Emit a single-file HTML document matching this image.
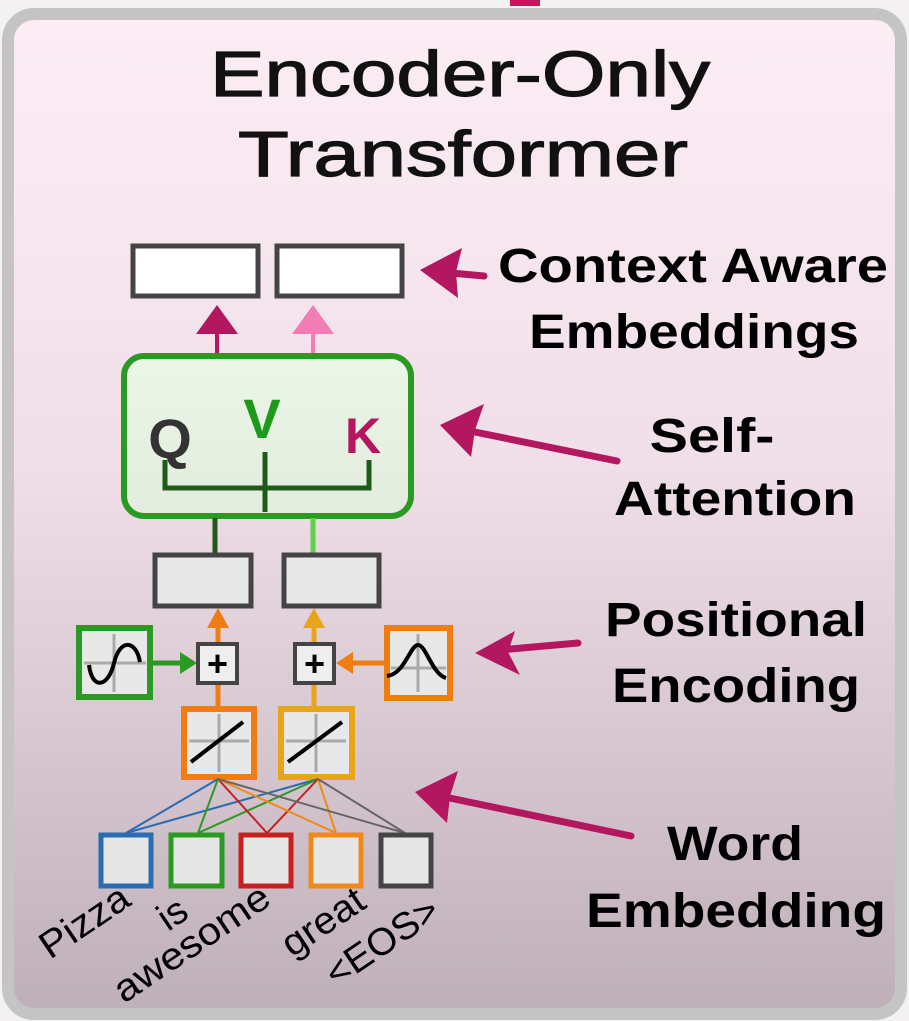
<!DOCTYPE html>
<html><head><meta charset="utf-8"><style>
html,body{margin:0;padding:0;background:#f4f2f3;}
svg{display:block}
text{font-family:"Liberation Sans",Arial,sans-serif}
</style></head><body>
<svg width="909" height="1021" viewBox="0 0 909 1021" xmlns="http://www.w3.org/2000/svg">
<defs>
<linearGradient id="bg" x1="0" y1="0" x2="0" y2="1">
<stop offset="0" stop-color="#fcedf5"/>
<stop offset="0.45" stop-color="#f0dfe8"/>
<stop offset="1" stop-color="#beafb9"/>
</linearGradient>
<linearGradient id="gb" x1="0" y1="0" x2="0" y2="1">
<stop offset="0" stop-color="#eaf6e6"/><stop offset="1" stop-color="#e3ecdf"/>
</linearGradient>
</defs>
<rect x="0" y="0" width="909" height="1021" fill="#f3f1f2"/>
<rect x="8" y="14" width="893" height="1000" rx="26" fill="url(#bg)" stroke="#c4c4c4" stroke-width="12"/>
<rect x="510" y="0" width="30" height="6" fill="#c2185b"/>

<text x="460" y="96" font-family="DejaVu Sans, sans-serif" font-size="64" text-anchor="middle" textLength="500" lengthAdjust="spacingAndGlyphs" fill="#111" stroke="#111" stroke-width="1.2">Encoder-Only</text>
<text x="463" y="176" font-family="DejaVu Sans, sans-serif" font-size="64" text-anchor="middle" textLength="450" lengthAdjust="spacingAndGlyphs" fill="#111" stroke="#111" stroke-width="1.2">Transformer</text>

<rect x="133" y="246" width="125" height="50" fill="#fff" stroke="#444" stroke-width="5"/>
<rect x="277" y="246" width="125" height="50" fill="#fff" stroke="#444" stroke-width="5"/>
<line x1="217" y1="355" x2="217" y2="320" stroke="#b3175f" stroke-width="4"/>
<polygon points="217,305 196,334 238,334" fill="#b3175f"/>
<line x1="313" y1="355" x2="313" y2="320" stroke="#f27cb4" stroke-width="4"/>
<polygon points="313,305 292,334 334,334" fill="#f27cb4"/>

<rect x="124" y="356" width="287" height="160" rx="20" fill="url(#gb)" stroke="#2a9a22" stroke-width="6"/>
<text x="170" y="458" font-family="DejaVu Sans, sans-serif" font-size="56" font-weight="bold" text-anchor="middle" fill="#333">Q</text>
<text x="262" y="438" font-family="DejaVu Sans, sans-serif" font-size="56" font-weight="bold" text-anchor="middle" fill="#1e9a1a">V</text>
<text x="363" y="453" font-family="DejaVu Sans, sans-serif" font-size="50" font-weight="bold" text-anchor="middle" fill="#b3175f">K</text>
<path d="M165 460 V488 H369 V460 M265 452 V512" fill="none" stroke="#1f5a1a" stroke-width="5"/>

<line x1="215" y1="518" x2="215" y2="555" stroke="#1f5a1a" stroke-width="5"/>
<line x1="313" y1="518" x2="313" y2="555" stroke="#5ed04e" stroke-width="5"/>

<rect x="155" y="555" width="96" height="51" fill="#e8e8e8" stroke="#444" stroke-width="5"/>
<rect x="284" y="555" width="95" height="51" fill="#e8e8e8" stroke="#444" stroke-width="5"/>

<line x1="218" y1="708" x2="218" y2="620" stroke="#ef7d12" stroke-width="5"/>
<polygon points="218,608 207,628 229,628" fill="#ef7d12"/>
<line x1="314" y1="708" x2="314" y2="620" stroke="#e9a51a" stroke-width="5"/>
<polygon points="314,608 303,628 325,628" fill="#e9a51a"/>

<rect x="198" y="644" width="39" height="39" fill="#eee" stroke="#444" stroke-width="4"/>
<text x="217.5" y="676" font-size="36" font-weight="bold" text-anchor="middle" fill="#000">+</text>
<rect x="295" y="644" width="39" height="39" fill="#eee" stroke="#444" stroke-width="4"/>
<text x="314.5" y="676" font-size="36" font-weight="bold" text-anchor="middle" fill="#000">+</text>

<rect x="79" y="628" width="71" height="69" fill="#e8e8e8" stroke="#2a9a22" stroke-width="6"/>
<path d="M114 634 V692 M84 663 H146" stroke="#aaa" stroke-width="3"/>
<path d="M89 665 C 92 690, 108 688, 114 663 C 120 638, 136 640, 140 662" fill="none" stroke="#000" stroke-width="4"/>
<line x1="150" y1="663" x2="185" y2="663" stroke="#2a9a22" stroke-width="5"/>
<polygon points="197,663 180,652 180,674" fill="#2a9a22"/>
<rect x="387" y="628" width="63" height="70" fill="#e8e8e8" stroke="#ef7d12" stroke-width="6"/>
<path d="M418 634 V692 M391 668 H446" stroke="#aaa" stroke-width="3"/>
<path d="M387 676 C 405 674, 410 645, 418 645 C 426 645, 432 674, 446 678" fill="none" stroke="#000" stroke-width="4"/>
<line x1="387" y1="663" x2="350" y2="663" stroke="#ef7d12" stroke-width="5"/>
<polygon points="336,663 353,652 353,674" fill="#ef7d12"/>

<rect x="184" y="709" width="70" height="68" fill="#e8e8e8" stroke="#ef7d12" stroke-width="6"/>
<path d="M219 714 V772 M189 741 H249" stroke="#aaa" stroke-width="3"/>
<line x1="191" y1="762" x2="243" y2="722" stroke="#000" stroke-width="4"/>
<rect x="281" y="709" width="71" height="68" fill="#e8e8e8" stroke="#e9a51a" stroke-width="6"/>
<path d="M316 714 V772 M286 741 H346" stroke="#aaa" stroke-width="3"/>
<line x1="288" y1="762" x2="342" y2="722" stroke="#000" stroke-width="4"/>

<g stroke-width="2" fill="none">
<path d="M218 779 L126 833 L318 779" stroke="#2b6cb0"/>
<path d="M218 779 L198 833 L318 779" stroke="#2a9a22"/>
<path d="M218 779 L267 833 L318 779" stroke="#c62020"/>
<path d="M218 779 L336 833 L318 779" stroke="#ef8a1a"/>
<path d="M218 779 L405 833 L318 779" stroke="#666"/>
</g>

<rect x="101" y="835" width="50" height="51" fill="#e6e6e6" stroke="#2b6cb0" stroke-width="5"/>
<rect x="171" y="835" width="51" height="51" fill="#e6e6e6" stroke="#2a9a22" stroke-width="5"/>
<rect x="241" y="835" width="50" height="51" fill="#e6e6e6" stroke="#c62020" stroke-width="5"/>
<rect x="311" y="835" width="50" height="51" fill="#e6e6e6" stroke="#ef8a1a" stroke-width="5"/>
<rect x="381" y="835" width="50" height="51" fill="#e6e6e6" stroke="#444" stroke-width="5"/>

<g font-size="38" fill="#000">
<text transform="translate(50,960) rotate(-34)" textLength="100" lengthAdjust="spacingAndGlyphs">Pizza</text>
<text transform="translate(168,932) rotate(-34)">is</text>
<text transform="translate(124,1004) rotate(-34)" textLength="180" lengthAdjust="spacingAndGlyphs">awesome</text>
<text transform="translate(292,958) rotate(-34)" textLength="92" lengthAdjust="spacingAndGlyphs">great</text>
<text transform="translate(336,988) rotate(-34)" textLength="128" lengthAdjust="spacingAndGlyphs">&lt;EOS&gt;</text>
</g>

<g stroke="#b3175f" stroke-width="7" stroke-linecap="round" fill="#b3175f">
<line x1="484" y1="276" x2="440" y2="272"/>
<polygon stroke="none" points="420,270 462,248 456,272 458,298"/>
<line x1="617" y1="461" x2="465" y2="430"/>
<polygon stroke="none" points="440,425 484,404 475,430 471,457"/>
<line x1="578" y1="643" x2="500" y2="650"/>
<polygon stroke="none" points="475,653 515,631 508,652 520,675"/>
<line x1="631" y1="836" x2="440" y2="796"/>
<polygon stroke="none" points="415,792 458,771 450,796 447,823"/>
</g>

<g font-size="48" font-weight="bold" fill="#000" text-anchor="middle">
<text x="693" y="282" textLength="390" lengthAdjust="spacingAndGlyphs">Context Aware</text>
<text x="694" y="348" textLength="330" lengthAdjust="spacingAndGlyphs">Embeddings</text>
<text x="712" y="452" textLength="125" lengthAdjust="spacingAndGlyphs">Self-</text>
<text x="735" y="515" textLength="242" lengthAdjust="spacingAndGlyphs">Attention</text>
<text x="736" y="636" textLength="262" lengthAdjust="spacingAndGlyphs">Positional</text>
<text x="736" y="702" textLength="248" lengthAdjust="spacingAndGlyphs">Encoding</text>
<text x="735" y="860" textLength="136" lengthAdjust="spacingAndGlyphs">Word</text>
<text x="736" y="927" textLength="300" lengthAdjust="spacingAndGlyphs">Embedding</text>
</g>
</svg>
</body></html>
